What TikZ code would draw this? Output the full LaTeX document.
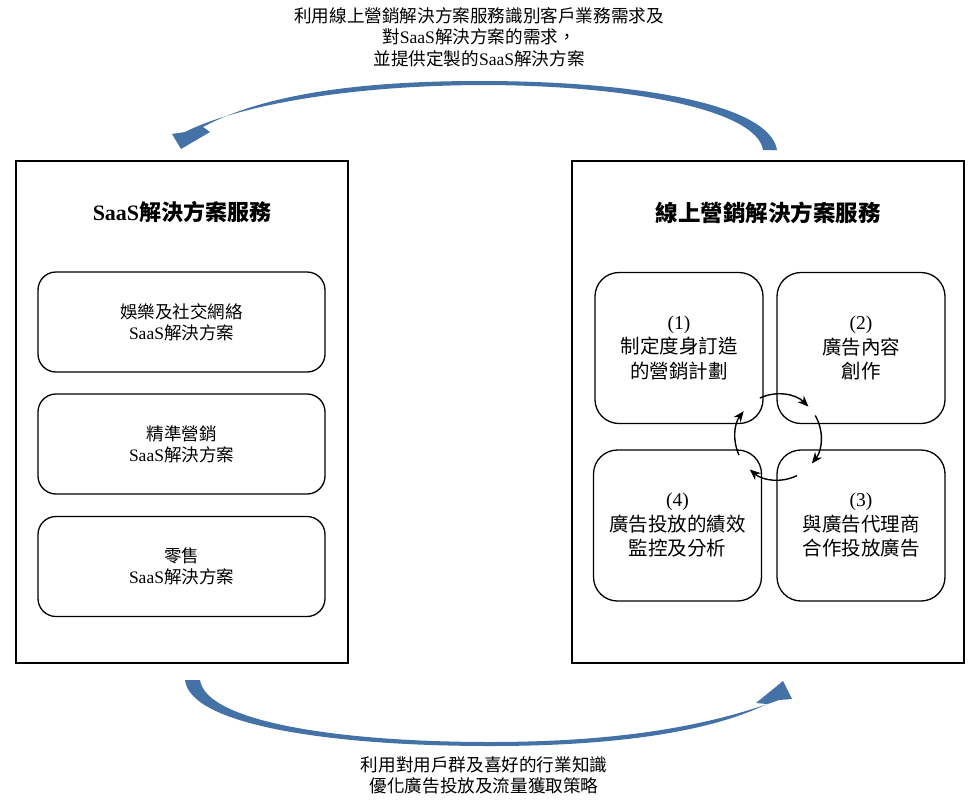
\documentclass[tikz,border=0pt]{standalone}
\usepackage{fontspec}
\setmainfont{Noto Sans CJK TC}
\newfontfamily\latin{Liberation Serif}
\usetikzlibrary{arrows.meta}

\definecolor{swoosh}{RGB}{68,114,166}
\newcommand{\saas}{{\latin SaaS}}

\tikzset{
	outerbox/.style={draw, line width=1.4pt, minimum height=502pt, inner sep=0pt},
	listbox/.style={draw, line width=1.3pt, rounded corners=18pt, minimum width=287pt, minimum height=100pt, align=center, inner sep=0pt, font=\fontsize{17.5}{21}\selectfont},
	stagebox/.style={draw, line width=1.3pt, rounded corners=24pt, minimum width=168pt, minimum height=151pt, align=center, inner sep=0pt, font=\fontsize{19.5}{24.5}\selectfont},
	caption/.style={align=center, inner sep=0pt, font=\fontsize{17.6}{21.5}\selectfont},
	cycarrow/.style={line width=1.4pt, -{Stealth[length=11pt, width=9pt]}}
}

\begin{document}
\begin{tikzpicture}[x=1pt, y=-1pt]
	\useasboundingbox (0,0) rectangle (977,803);

	% two services
	\node[outerbox, minimum width=332pt] (saas) at (182,412) {};
	\node[outerbox, minimum width=392pt] (mkt) at (768,412) {};

	\node[inner sep=0pt, font=\fontsize{22}{26}\selectfont\bfseries] (saastitle) at (182,212) {{\latin\bfseries SaaS}解決方案服務};
	\node[inner sep=0pt, font=\fontsize{22.5}{26}\selectfont\bfseries] (mkttitle) at (768,213) {線上營銷解決方案服務};

	\node[listbox] (ent) at (181.5,322) {娛樂及社交網絡\\\saas 解決方案};
	\node[listbox] (prec) at (181.5,444) {精準營銷\\\saas 解決方案};
	\node[listbox] (retail) at (181.5,566.5) {零售\\\saas 解決方案};

	\node[stagebox] (plan) at (679,348) {{\latin (1)}\\制定度身訂造\\的營銷計劃};
	\node[stagebox] (create) at (861,348) {{\latin (2)}\\廣告內容\\創作};
	\node[stagebox] (place) at (861,525.5) {{\latin (3)}\\與廣告代理商\\合作投放廣告};
	\node[stagebox] (monitor) at (677.5,525.5) {{\latin (4)}\\廣告投放的績效\\監控及分析};

	% cycle between the four stages
	\coordinate (cyc) at (778,437);
	\foreach \a/\b in {-115/-45, -30/38, 64/131, 155/217}{
		\draw[cycarrow] ([shift={(\a:43)}]cyc) arc[start angle=\a, end angle=\b, radius=43];
	}

	% upper swoosh, from marketing to SaaS
	\fill[swoosh] (777,150) .. controls (770,105) and (640,81) .. (480,81)
		.. controls (340,81) and (255,99) .. (203,127) -- (210,132) -- (181,149) -- (172,134) -- (185,132)
		.. controls (228,110) and (330,86) .. (480,85)
		.. controls (630,85) and (757,110) .. (763,150) -- cycle;
	\node[caption] (toplabel) at (479,37) {利用線上營銷解決方案服務識別客戶業務需求及\\對\saas 解決方案的需求，\\並提供定製的\saas 解決方案};

	% lower swoosh, from SaaS to marketing
	\fill[swoosh] (185,680) .. controls (190,725) and (330,746) .. (490,746)
		.. controls (640,746) and (722,726) .. (767,704) -- (756,703) -- (783,681) -- (792,699) -- (779,700)
		.. controls (724,720) and (640,742) .. (490,742)
		.. controls (340,742) and (206,722) .. (200,680) -- cycle;
	\node[caption] (botlabel) at (484,775.5) {利用對用戶群及喜好的行業知識\\優化廣告投放及流量獲取策略};
\end{tikzpicture}
\end{document}
